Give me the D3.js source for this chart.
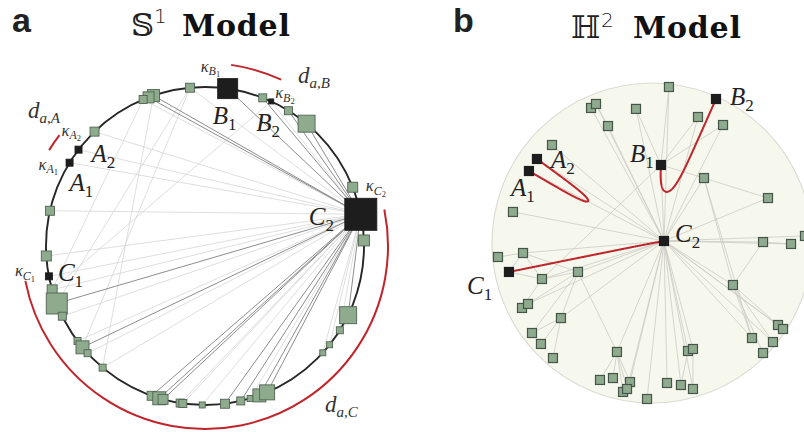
<!DOCTYPE html>
<html><head><meta charset="utf-8">
<script src="https://cdn.jsdelivr.net/npm/d3@7"></script>
<style>body{margin:0;background:#fff} svg{display:block}</style>
</head><body>
<svg id="chart" width="804" height="432"></svg>
<script>
// ================= DATA =================
// Panel a: S1 model — angular coordinate (deg, clockwise from top) and hidden degree (kappa)
const s1Theta = [-5.4,-18.9,-20.8,-22.9,-44,-52.7,-58.4,-77.2,-93.6,-101,-106,-111.2,-116.2,-126.7,-129.6,-132.4,-139.9,-160.4,-163.3,-164.7,-171,-172,-179,172.8,167,163.5,160,157,132.2,128.4,122,115.8,88,78.5,68.3,39.7,31.7,24.6,21.3,8.2];
const s1Kappa = [9,12,11,8,9,7,7,9,10,7,10,21,8,7,13,7,7,9,13,10,8,8,6,9,8,6,13,15,6,6,7,17,11,32,10,17,8,5,8,20];
const s1Names = ["","","","","","A2","A1","","","C1","","","","","","","","","","","","","","","","","","","","","","","","C2","","","","B2","","B1"];
const s1StrongEdges = [[33,1],[33,2],[33,11],[33,17],[33,18],[33,23],[33,26],[33,27],[33,31],[33,35],[33,14],[33,39],[33,36],[33,38],[33,19],[33,24]];
const s1WeakEdges = [[33,0],[33,3],[33,4],[33,5],[33,6],[33,7],[33,8],[33,9],[33,10],[33,12],[33,13],[33,15],[33,16],[33,20],[33,21],[33,22],[33,25],[33,28],[33,29],[33,30],[33,32],[33,34],[33,37],[11,0],[14,0],[10,37],[10,3],[16,1]];
const s1Pairs = [["A1","A2"],["B1","B2"],["C2","C1"]];

// Panel b: H2 model — native-disk coordinates (unit disk)
const h2X = [0.106,-0.381,-0.35,-0.1,-0.275,0.4,0.2875,0.444,-0.625,-0.719,-0.769,0.056,0.325,0.725,-0.869,0.075,0.694,0.869,0.956,-0.9625,-0.806,-0.894,-0.6875,-0.4625,0.506,-0.8125,-0.775,-0.569,-0.75,-0.694,-0.619,-0.219,-0.325,-0.244,-0.1375,-0.181,-0.156,-0.031,0.094,0.181,0.256,0.225,0.256,0.625,0.756,0.694,0.7875,0.819];
const h2Y = [0.975,0.844,0.869,0.838,0.731,0.9,0.7875,0.7375,0.6125,0.525,0.45,0.4875,0.406,0.281,0.194,0.0125,0.006,-0.006,0.044,-0.0875,-0.0625,-0.181,-0.225,-0.181,-0.2625,-0.406,-0.381,-0.469,-0.5625,-0.631,-0.719,-0.681,-0.856,-0.844,-0.869,-0.931,-0.9125,-0.975,-0.875,-0.8875,-0.9125,-0.675,-0.6625,-0.594,-0.619,-0.6875,-0.5125,-0.5375];
const h2Names = ["","","","","","B2","","","","A2","A1","B1","","","","C2","","","","","","C1","","","","","","","","","","","","","","","","","","","","","","","","","",""];
const h2Edges = [[15,0],[15,1],[15,2],[15,3],[15,4],[15,6],[15,7],[15,8],[15,9],[15,10],[15,11],[15,12],[15,13],[15,14],[15,16],[15,17],[15,18],[15,20],[15,22],[15,23],[15,24],[15,26],[15,27],[15,31],[15,34],[15,36],[15,37],[15,38],[15,39],[15,40],[15,41],[15,42],[15,43],[15,44],[15,46],[15,47],
 [0,11],[3,11],[6,11],[7,11],[11,12],[11,22],[2,4],[12,13],[12,24],[16,17],[24,16],[24,43],[24,44],[24,45],[24,46],[12,43],
 [23,20],[23,22],[23,26],[23,28],[23,27],[23,31],[19,20],[20,22],[22,25],[27,28],[27,29],[27,30],[31,32],[31,33],[31,34],[31,35],[31,36],[41,39],[42,40],[21,20],[21,22]];
const h2Pairs = [["A2","A1"],["B1","B2"],["C1","C2"]];
const h2Rmax = 7.7; // hyperbolic radius of the disk

// ================= DRAW =================
const svg = d3.select("#chart");
const serif = "'Liberation Serif','Times New Roman',serif";
const GREEN = "#8fab8e", GREEN_STROKE = "#4f6350", BLACK = "#1d1d1d", RED = "#c0252b";

function rich(g, x, y, parts, color){
  const t = g.append("text").attr("x", x).attr("y", y).attr("fill", color || "#222").attr("font-family", serif);
  parts.forEach(p => {
    t.append("tspan").text(p.t).attr("font-size", p.s).attr("font-style", p.i ? "italic" : "normal")
      .attr("dy", p.dy || 0).attr("dx", p.dx || 0);
  });
  return t;
}
function nodeLabel(g, x, y, letter, digit){
  rich(g, x, y, [{t:letter, s:25, i:true},{t:digit, s:17, dy:6}]);
}
function kappaLabel(g, x, y, letter, digit){
  rich(g, x, y, [{t:"κ", s:16.5, i:true},{t:letter, s:12, i:true, dy:3.5},{t:digit, s:8.5, dy:2}], "#333");
}
function dLabel(g, x, y, sub){
  rich(g, x, y, [{t:"d", s:23, i:true},{t:sub, s:15, i:true, dy:5}], "#333");
}

// ---- Panel a ----
const aCx = 205, aCy = 246, aR = 159, aArcR = 183;
const angle = d3.scaleLinear().domain([0, 360]).range([0, 2 * Math.PI]);
const sideA = d3.scaleLinear().domain([0, 32]).range([0, 32]);
const aNodes = s1Theta.map((t, i) => {
  const a = angle(t);
  return {i, a, k: s1Kappa[i], name: s1Names[i], x: aCx + aR * Math.sin(a), y: aCy - aR * Math.cos(a)};
});
const aByName = {}; aNodes.forEach(n => { if (n.name) aByName[n.name] = n; });
const ga = svg.append("g");

ga.append("g").selectAll("line").data(s1WeakEdges).join("line")
  .attr("x1", d => aNodes[d[0]].x).attr("y1", d => aNodes[d[0]].y)
  .attr("x2", d => aNodes[d[1]].x).attr("y2", d => aNodes[d[1]].y)
  .attr("stroke", "#d6d6d6").attr("stroke-width", 0.8);
ga.append("g").selectAll("line").data(s1StrongEdges).join("line")
  .attr("x1", d => aNodes[d[0]].x).attr("y1", d => aNodes[d[0]].y)
  .attr("x2", d => aNodes[d[1]].x).attr("y2", d => aNodes[d[1]].y)
  .attr("stroke", "#8d8d8d").attr("stroke-width", 1);

ga.append("circle").attr("cx", aCx).attr("cy", aCy).attr("r", aR)
  .attr("fill", "none").attr("stroke", "#262626").attr("stroke-width", 1.9);

// red angular-distance arcs
ga.append("g").selectAll("path").data(s1Pairs).join("path")
  .attr("d", d => {
    const a0 = aByName[d[0]].a; let a1 = aByName[d[1]].a;
    if (a1 < a0) a1 += 2 * Math.PI;
    const p = d3.path();
    p.moveTo(aCx + aArcR * Math.sin(a0), aCy - aArcR * Math.cos(a0));
    p.arc(aCx, aCy, aArcR, a0 - Math.PI / 2, a1 - Math.PI / 2, false);
    return p.toString();
  })
  .attr("fill", "none").attr("stroke", RED).attr("stroke-width", 2);

const aSorted = aNodes.slice().sort((p, q) => (p.name ? 1 : 0) - (q.name ? 1 : 0));
ga.append("g").selectAll("rect").data(aSorted).join("rect")
  .attr("x", d => d.x - sideA(d.k) / 2).attr("y", d => d.y - sideA(d.k) / 2)
  .attr("width", d => sideA(d.k)).attr("height", d => sideA(d.k))
  .attr("fill", d => d.name ? BLACK : GREEN)
  .attr("stroke", d => d.name ? BLACK : GREEN_STROKE).attr("stroke-width", 0.9);

// labels panel a (offsets relative to nodes)
const aLab = {A2:[13,12], A1:[0,28], B1:[-15,35], B2:[-15,30], C2:[-52,11], C1:[9,5]};
const aKap = {A2:[-17,-14], A1:[-31,7], B1:[-27,-17], B2:[4,-3], C2:[5,-23], C1:[-34,0]};
Object.keys(aLab).forEach(nm => {
  const n = aByName[nm];
  nodeLabel(ga, n.x + aLab[nm][0], n.y + aLab[nm][1], nm[0], nm[1]);
  kappaLabel(ga, n.x + aKap[nm][0], n.y + aKap[nm][1], nm[0], nm[1]);
});
dLabel(ga, 28, 118, "a,A");
dLabel(ga, 298, 83, "a,B");
dLabel(ga, 325, 412, "a,C");

// ---- Panel b ----
const bCx = 652, bCy = 243, bR = 160;
const bx = d3.scaleLinear().domain([-1, 1]).range([bCx - bR, bCx + bR]);
const by = d3.scaleLinear().domain([-1, 1]).range([bCy + bR, bCy - bR]);
const bNodes = h2X.map((u, i) => ({i, u, v: h2Y[i], name: h2Names[i], x: bx(u), y: by(h2Y[i])}));
const bByName = {}; bNodes.forEach(n => { if (n.name) bByName[n.name] = n; });
const gb = svg.append("g");

gb.append("circle").attr("cx", bCx).attr("cy", bCy).attr("r", bR)
  .attr("fill", "#f6f7ed").attr("stroke", "#dcdcd4").attr("stroke-width", 1.2);

gb.append("g").selectAll("line").data(h2Edges).join("line")
  .attr("x1", d => bNodes[d[0]].x).attr("y1", d => bNodes[d[0]].y)
  .attr("x2", d => bNodes[d[1]].x).attr("y2", d => bNodes[d[1]].y)
  .attr("stroke", "#cbccc5").attr("stroke-width", 0.8);

// hyperbolic geodesics in the native representation
function toHyperboloid(n){
  const rho = Math.hypot(n.u, n.v), th = Math.atan2(n.v, n.u), r = rho * h2Rmax;
  return [Math.cosh(r), Math.sinh(r) * Math.cos(th), Math.sinh(r) * Math.sin(th)];
}
function geodesic(n1, n2, steps){
  const p = toHyperboloid(n1), q = toHyperboloid(n2);
  const dot = p[0] * q[0] - p[1] * q[1] - p[2] * q[2];
  const d = Math.acosh(Math.max(1, dot));
  const pts = [];
  for (let s = 0; s <= steps; s++){
    const t = s / steps;
    const A = Math.sinh((1 - t) * d) / Math.sinh(d), B = Math.sinh(t * d) / Math.sinh(d);
    const x0 = A * p[0] + B * q[0], x1 = A * p[1] + B * q[1], x2 = A * p[2] + B * q[2];
    const r = Math.acosh(Math.max(1, x0)), th = Math.atan2(x2, x1), rho = r / h2Rmax;
    pts.push([bx(rho * Math.cos(th)), by(rho * Math.sin(th))]);
  }
  return pts;
}
const line = d3.line().curve(d3.curveLinear);
gb.append("g").selectAll("path").data(h2Pairs).join("path")
  .attr("d", d => line(geodesic(bByName[d[0]], bByName[d[1]], 200)))
  .attr("fill", "none").attr("stroke", RED).attr("stroke-width", 2);

const bSorted = bNodes.slice().sort((p, q) => (p.name ? 1 : 0) - (q.name ? 1 : 0));
const bSide = 9;
gb.append("g").selectAll("rect").data(bSorted).join("rect")
  .attr("x", d => d.x - bSide / 2).attr("y", d => d.y - bSide / 2)
  .attr("width", bSide).attr("height", bSide)
  .attr("fill", d => d.name ? BLACK : GREEN)
  .attr("stroke", d => d.name ? BLACK : "#46554a").attr("stroke-width", 1.2);

const bLab = {B2:[14,6], A2:[14,9], A1:[-18,25], B1:[-31,-3], C2:[11,1], C1:[-42,22]};
Object.keys(bLab).forEach(nm => {
  const n = bByName[nm];
  nodeLabel(gb, n.x + bLab[nm][0], n.y + bLab[nm][1], nm[0], nm[1]);
});

// ---- Titles ----
svg.append("text").attr("x", 12).attr("y", 32).text("a")
  .attr("font-family", "'Liberation Sans',Arial,sans-serif").attr("font-weight", "bold").attr("font-size", 34).attr("fill", "#222");
svg.append("text").attr("x", 453).attr("y", 32).text("b")
  .attr("font-family", "'Liberation Sans',Arial,sans-serif").attr("font-weight", "bold").attr("font-size", 34).attr("fill", "#222");

function title(x, y, sym, symSize, sup, supX, supDy, modelX){
  svg.append("text").attr("x", x).attr("y", y).text(sym)
    .attr("font-family", "'DejaVu Serif','DejaVu Sans',serif").attr("font-size", symSize).attr("fill", "#222");
  svg.append("text").attr("x", supX).attr("y", y - supDy).text(sup)
    .attr("font-family", "'DejaVu Sans',sans-serif").attr("font-size", 20).attr("font-weight", 300).attr("fill", "#222");
  svg.append("text").attr("x", modelX).attr("y", y).text("Model")
    .attr("font-family", "'DejaVu Serif',serif").attr("font-weight", "bold").attr("font-size", 30).attr("letter-spacing", 0.8).attr("fill", "#111");
}
title(131, 36, "𝕊", 32, "1", 154, 13, 182);
title(571, 38, "ℍ", 31, "2", 601, 11, 633);
</script>
</body></html>
